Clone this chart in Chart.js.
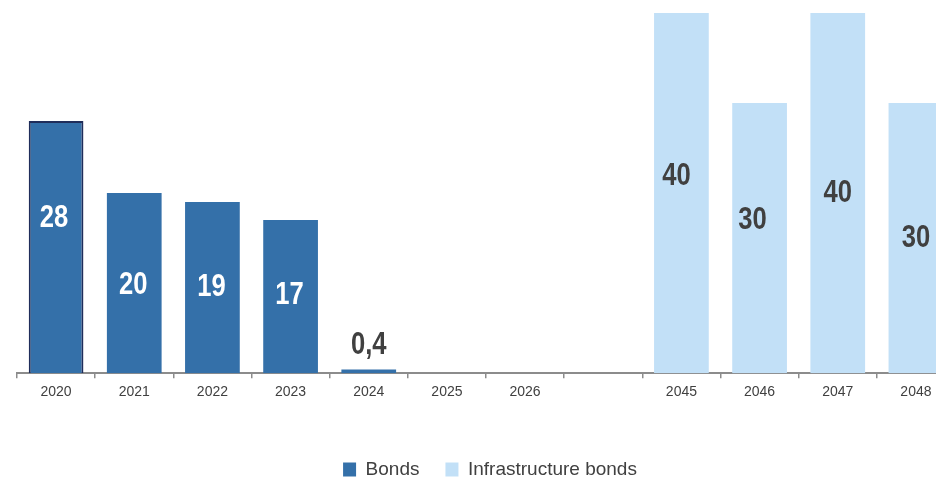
<!DOCTYPE html>
<html>
<head>
<meta charset="utf-8">
<script src="https://cdn.jsdelivr.net/npm/chart.js@4/dist/chart.umd.min.js"></script>
<style>
  html, body { margin: 0; padding: 0; background: #fff; overflow: hidden; }
  #wrap { position: relative; width: 984px; height: 478px; }
</style>
</head>
<body>
<div id="wrap"><canvas id="c"></canvas></div>
<script>
const categories = ["2020", "2021", "2022", "2023", "2024", "2025", "2026", "", "2045", "2046", "2047", "2048"];
const bondsValues = [28, 20, 19, 17, 0.4, null, null, null, null, null, null, null];
const infraValues = [null, null, null, null, null, null, null, null, 40, 30, 40, 30];
const bondsLabels = ["28", "20", "19", "17", "0,4", "", "", "", "", "", "", ""];
const infraLabels = ["", "", "", "", "", "", "", "", "40", "30", "40", "30"];

// label offsets (style) relative to bar middle: [dx, dy]
const bondsLabelOffsets = [[-2, -29], [-1, 2], [-1, 0], [-1, -1], null, null, null, null, null, null, null, null];
const infraLabelOffsets = [null, null, null, null, null, null, null, null, [-5, -17], [-7, -18], [0, 0], [0, 0]];

const labelFont = 'bold 32px "Liberation Sans", Arial, sans-serif';
const labelSqueeze = 0.8;

const labelPlugin = {
  id: 'barLabels',
  afterLayout(chart) {
    if (chart.legend) { chart.legend.left += 4; chart.legend.right += 4; }
  },
  afterDatasetsDraw(chart) {
    const ctx = chart.ctx;
    const sets = [
      { idx: 0, labels: bondsLabels, offs: bondsLabelOffsets, color: '#ffffff' },
      { idx: 1, labels: infraLabels, offs: infraLabelOffsets, color: '#404040' }
    ];
    sets.forEach(s => {
      const meta = chart.getDatasetMeta(s.idx);
      meta.data.forEach((bar, i) => {
        const txt = s.labels[i];
        if (!txt) return;
        const val = chart.data.datasets[s.idx].data[i];
        if (val === null) return;
        const p = bar.getProps(['x', 'y', 'base'], true);
        const h = p.base - p.y;
        let x, y, col;
        if (h < 40) {
          col = '#404040'; x = p.x; y = p.y - 24;
        } else {
          const o = s.offs[i] || [0, 0];
          col = s.color; x = p.x + o[0]; y = (p.y + p.base) / 2 + o[1];
        }
        ctx.save();
        ctx.font = labelFont;
        ctx.textAlign = 'center';
        ctx.textBaseline = 'middle';
        ctx.fillStyle = col;
        ctx.translate(x, y);
        ctx.scale(labelSqueeze, 1);
        ctx.fillText(txt, 0, 0);
        ctx.restore();
      });
    });
  }
};

new Chart(document.getElementById('c'), {
  type: 'bar',
  data: {
    labels: categories,
    datasets: [
      {
        label: 'Bonds',
        data: bondsValues,
        backgroundColor: '#3470A9',
        borderColor: '#1F2D5A',
        borderWidth: [2, 0, 0, 0, 0, 0, 0, 0, 0, 0, 0, 0],
        borderSkipped: 'bottom',
        categoryPercentage: 1,
        barPercentage: 0.7,
        grouped: false
      },
      {
        label: 'Infrastructure bonds',
        data: infraValues,
        backgroundColor: '#C2E0F7',
        borderWidth: 0,
        categoryPercentage: 1,
        barPercentage: 0.7,
        grouped: false
      }
    ]
  },
  options: {
    responsive: true,
    maintainAspectRatio: false,
    animation: false,
    layout: { padding: { left: 17, right: 29, top: 13, bottom: -11 } },
    scales: {
      x: {
        afterFit(scale) { scale.height += 27; },
        grid: {
          display: true,
          drawOnChartArea: false,
          drawTicks: true,
          tickLength: 5,
          color: '#8c8c8c',
          lineWidth: 1.5,
          offset: true
        },
        border: { display: true, color: '#8c8c8c', width: 2 },
        ticks: {
          color: '#404040',
          padding: 6,
          maxRotation: 0,
          autoSkip: false,
          font: { family: '"Liberation Sans", Arial, sans-serif', size: 14 }
        }
      },
      y: {
        display: false,
        min: 0,
        max: 40
      }
    },
    plugins: {
      legend: {
        position: 'bottom',
        labels: {
          boxWidth: 13,
          boxHeight: 14,
          padding: 26,
          color: '#404040',
          font: { family: '"Liberation Sans", Arial, sans-serif', size: 19 },
          generateLabels(chart) {
            return chart.data.datasets.map((ds, i) => ({
              text: ds.label,
              fillStyle: ds.backgroundColor,
              strokeStyle: ds.backgroundColor,
              lineWidth: 0,
              fontColor: '#404040',
              hidden: false,
              datasetIndex: i
            }));
          }
        }
      },
      tooltip: { enabled: false }
    }
  },
  plugins: [labelPlugin]
});
</script>
</body>
</html>
